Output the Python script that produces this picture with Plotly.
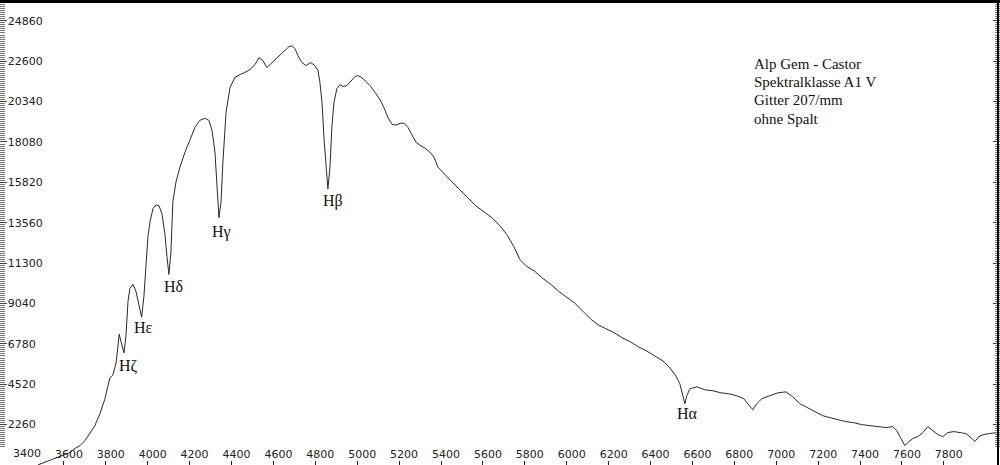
import plotly.graph_objects as go

# Wavelength (Angstrom) and relative flux
wavelength = [3476, 3510, 3534, 3557, 3581, 3605, 3629, 3653, 3677, 3701, 3724, 3748, 3772, 3796,
              3810, 3820, 3834, 3849, 3858, 3864, 3872, 3887, 3896, 3906, 3915, 3930, 3944, 3958,
              3971, 3982, 3992, 4001, 4011, 4025, 4039, 4054, 4068, 4082, 4092, 4101, 4111, 4120,
              4135, 4154, 4178, 4202, 4226, 4249, 4273, 4292, 4307, 4321, 4331, 4340, 4350, 4359,
              4374, 4393, 4416, 4440, 4464, 4488, 4512, 4531, 4550, 4569, 4593, 4617, 4645, 4674,
              4688, 4703, 4717, 4736, 4755, 4779, 4798, 4813, 4822, 4832, 4841, 4851, 4860, 4870,
              4879, 4889, 4903, 4917, 4932, 4951, 4970, 4989, 5003, 5022, 5042, 5061, 5085, 5108,
              5127, 5146, 5166, 5185, 5204, 5223, 5242, 5261, 5280, 5299, 5323, 5347, 5366, 5385,
              5419, 5452, 5490, 5528, 5566, 5605, 5643, 5681, 5714, 5748, 5776, 5810, 5848, 5886,
              5924, 5962, 6001, 6039, 6077, 6115, 6153, 6192, 6230, 6268, 6306, 6344, 6382, 6421,
              6459, 6492, 6521, 6540, 6554, 6564, 6573, 6588, 6621, 6659, 6697, 6736, 6774, 6812,
              6845, 6869, 6888, 6907, 6931, 6969, 7008, 7046, 7079, 7113, 7141, 7175, 7199, 7222,
              7256, 7294, 7332, 7370, 7408, 7447, 7485, 7523, 7556, 7575, 7595, 7614, 7628, 7652,
              7676, 7700, 7723, 7747, 7771, 7795, 7819, 7848, 7876, 7905, 7929, 7948, 7967, 7991,
              8019, 8053]
flux = [5, 145, 256, 370, 480, 590, 700, 925, 1090, 1370, 1760, 2205, 2870, 3710,
        4430, 4880, 5040, 5710, 6655, 7325, 6935, 6270, 7215, 9165, 9885, 10110, 9720, 8885,
        8275, 9440, 11110, 12780, 13615, 14340, 14560, 14505, 14060, 12950, 11670, 10670, 11950, 14730,
        15845, 16680, 17515, 18185, 18900, 19295, 19405, 19295, 18735, 17515, 15565, 13840, 14730, 16955,
        19740, 21130, 21690, 21855, 21970, 22135, 22410, 22800, 22635, 22245, 22525, 22800, 23080, 23415,
        23470, 23305, 22915, 22525, 22355, 22525, 22355, 22080, 21410, 20295, 18345, 16675, 15455, 16675,
        18900, 20295, 21075, 21295, 21185, 21240, 21520, 21740, 21800, 21685, 21465, 21240, 20855, 20465,
        20020, 19465, 19075, 19020, 19130, 19130, 18905, 18460, 18070, 17905, 17735, 17515, 17235, 16680,
        16235, 15845, 15400, 14955, 14505, 14175, 13840, 13395, 12895, 12225, 11500, 11110, 10835, 10445,
        10110, 9720, 9385, 9050, 8605, 8160, 7825, 7605, 7380, 7100, 6880, 6600, 6380, 6100,
        5825, 5435, 4990, 4545, 3875, 3430, 3875, 4265, 4375, 4210, 4155, 4040, 3985, 3875,
        3710, 3375, 3095, 3430, 3710, 3875, 4040, 4095, 3820, 3430, 3260, 3040, 2870, 2760,
        2650, 2540, 2430, 2370, 2260, 2205, 2150, 2095, 2150, 1925, 1480, 1090, 1255, 1480,
        1590, 1815, 2150, 1925, 1705, 1590, 1815, 1870, 1815, 1760, 1535, 1315, 1590, 1705,
        1760, 1815]

x_ticks = list(range(3400, 8000, 200))
y_ticks = [2260, 4520, 6780, 9040, 11300, 13560, 15820, 18080, 20340, 22600, 24860]

line_labels = ["H\u03b6", "H\u03b5", "H\u03b4", "H\u03b3", "H\u03b2", "H\u03b1"]
label_wl = [3906, 3982, 4121, 4354, 4884, 6578]
label_flux = [5540, 7710, 10000, 13060, 14785, 2870]

info_lines = ["Alp Gem - Castor", "Spektralklasse A1 V", "Gitter 207/mm", "ohne Spalt"]

tick_font = dict(family="DejaVu Sans", size=11, color="#222")

fig = go.Figure()
fig.add_trace(go.Scatter(x=wavelength, y=flux, mode="lines",
                         line=dict(color="#2a2a2a", width=1), hoverinfo="skip",
                         showlegend=False))

for t, xw, yf in zip(line_labels, label_wl, label_flux):
    fig.add_annotation(x=xw, y=yf, xref="x", yref="y", text=t, showarrow=False,
                       font=dict(family="Liberation Serif", size=16, color="#111"))

info_y = [61, 79.5, 98, 116.5]
for t, py in zip(info_lines, info_y):
    fig.add_annotation(x=0.752, y=1 - py / 465, xref="paper", yref="paper", text=t,
                       showarrow=False, xanchor="left", yanchor="middle",
                       font=dict(family="Liberation Serif", size=15, color="#111"))

# first x tick label (plotly hides it because it overlaps the inside y labels)
fig.add_annotation(x=x_ticks[0], y=1 - 453 / 465, xref="x", yref="paper", text=str(x_ticks[0]),
                   showarrow=False, xshift=5, yanchor="middle", font=tick_font)

# right border line
fig.add_shape(type="line", xref="paper", yref="paper", x0=0.998, x1=0.998, y0=0, y1=1,
              line=dict(color="black", width=2))

fig.update_layout(
    width=1000, height=465,
    margin=dict(l=0, r=0, t=0, b=0),
    paper_bgcolor="white", plot_bgcolor="white",
    xaxis=dict(range=[3295, 8068], tickvals=x_ticks, ticktext=[str(v) for v in x_ticks],
               ticks="inside", ticklen=4, tickcolor="#222", tickwidth=1,
               ticklabelposition="inside", ticklabelshift=5,
               tickfont=tick_font,
               showgrid=False, zeroline=False,
               showline=True, linecolor="black", linewidth=3, mirror=True),
    yaxis=dict(range=[0, 25860], tickvals=y_ticks, ticktext=[str(v) for v in y_ticks],
               ticks="inside", ticklen=7, tickcolor="#444", tickwidth=1,
               ticklabelposition="inside",
               tickfont=tick_font,
               minor=dict(ticks="inside", ticklen=5, tickcolor="#777", dtick=113, tick0=0, tickwidth=1),
               showgrid=False, zeroline=False, showline=False, mirror="ticks"),
)

fig.write_html("out.html", config={"displayModeBar": False},
               post_script="document.body.style.margin='0';")
